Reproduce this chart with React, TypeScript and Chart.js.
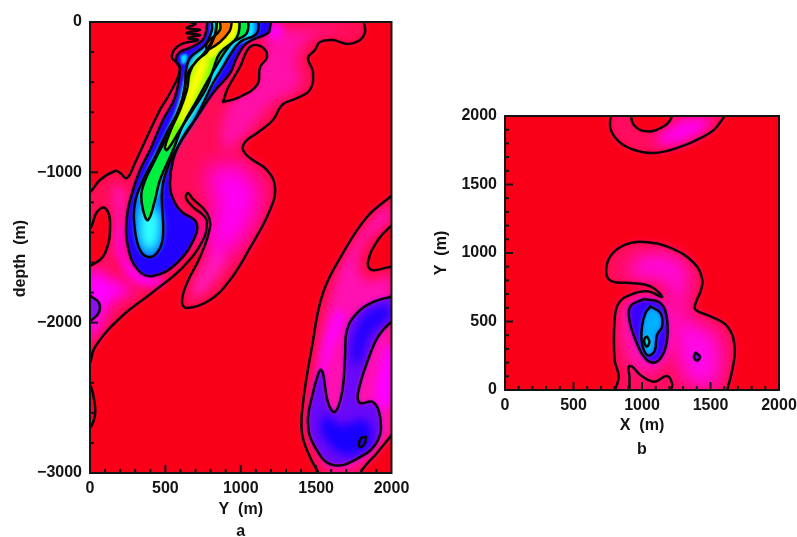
import React, { useEffect, useRef } from "react";
import { Chart, registerables } from "chart.js";

type P = [number, number];

// ---- Panel a (Y in m, depth in m) ----
const pinkMain: P[] = [[-33,-1131],[0,-1131],[66,-1051],[166,-991],[199,-1004],[245,-1038],[298,-938],[378,-765],[464,-585],[531,-472],[597,-319],[570,-266],[544,-239],[557,-186],[610,-146],[716,-120],[650,-106],[730,-86],[637,-73],[730,-53],[643,-40],[700,-13],[663,0],[663,47],[1817,47],[1817,0],[1824,-67],[1791,-120],[1711,-146],[1612,-120],[1526,-133],[1492,-186],[1446,-239],[1479,-333],[1459,-452],[1373,-506],[1274,-552],[1214,-652],[1108,-738],[1028,-798],[1015,-851],[1061,-905],[1174,-985],[1227,-1098],[1194,-1251],[1061,-1503],[929,-1716],[796,-1849],[643,-1903],[610,-1863],[643,-1736],[730,-1563],[796,-1364],[776,-1271],[677,-1171],[650,-1137],[637,-1171],[683,-1231],[750,-1284],[776,-1330],[750,-1450],[617,-1630],[418,-1796],[199,-1969],[33,-2162],[0,-2268],[-33,-2315]];
const lobeOuter: P[] = [[2023,-1137],[1990,-1164],[1837,-1297],[1678,-1537],[1545,-1803],[1472,-2162],[1413,-2534],[1406,-2734],[1459,-2894],[1512,-2993],[1526,-3033],[1791,-3033],[1804,-2980],[1904,-2867],[1990,-2761],[2023,-2727]];
const lobeIsland: P[] = [[2023,-1350],[1990,-1364],[1910,-1450],[1844,-1596],[1870,-1650],[1990,-1630],[2023,-1636]];
const lobeBlue: P[] = [[2023,-1823],[1990,-1829],[1877,-1863],[1771,-1936],[1705,-2049],[1691,-2248],[1671,-2468],[1625,-2594],[1579,-2534],[1545,-2335],[1526,-2315],[1479,-2468],[1446,-2667],[1492,-2827],[1612,-2947],[1791,-2894],[1910,-2781],[1924,-2627],[1877,-2528],[1791,-2534],[1778,-2468],[1844,-2248],[1910,-2095],[1990,-2002],[2023,-1996]];
const lobeCoreUpper: P[] = [[1957,-1883],[1824,-1949],[1758,-2082],[1738,-2248],[1778,-2282],[1857,-2082],[2003,-1929]];
const lobeCoreLower: P[] = [[1526,-2714],[1592,-2814],[1691,-2880],[1824,-2847],[1870,-2747],[1824,-2647],[1658,-2681],[1559,-2614]];
const lobeEllipse: P[] = [[1831,-2761],[1824,-2801],[1798,-2827],[1784,-2814],[1798,-2767]];
const plumeBlue: P[] = [[783,47],[756,-106],[677,-166],[597,-200],[570,-253],[597,-306],[564,-499],[484,-652],[398,-851],[332,-984],[285,-1118],[245,-1297],[252,-1497],[318,-1650],[418,-1690],[577,-1603],[696,-1430],[703,-1330],[610,-1264],[564,-1204],[531,-1098],[551,-918],[617,-765],[710,-632],[816,-472],[929,-339],[975,-233],[1041,-140],[1181,-73],[1194,-33],[1194,47]];
const plumeAzure: P[] = [[1114,47],[1108,-73],[995,-133],[929,-220],[882,-299],[816,-406],[730,-585],[683,-672],[597,-805],[517,-965],[478,-1118],[484,-1430],[444,-1537],[385,-1563],[332,-1517],[298,-1384],[298,-1204],[352,-1051],[431,-898],[511,-732],[597,-565],[630,-419],[637,-319],[663,-239],[763,-153],[809,-53],[816,47]];
const plumeCyanBand: P[] = [[1081,47],[1075,-100],[968,-153],[902,-239],[856,-333],[763,-499],[663,-672],[570,-838],[484,-1018],[431,-1184],[332,-1184],[385,-984],[497,-752],[584,-552],[625,-386],[680,-245],[790,-140],[830,47]];
const pouchCyan: P[] = [[464,-1284],[451,-1450],[398,-1517],[345,-1470],[332,-1330],[365,-1217]];
const plumeGreen: P[] = [[1048,47],[1041,-73],[949,-133],[895,-200],[849,-273],[783,-386],[710,-519],[617,-685],[551,-851],[464,-1051],[431,-1184],[385,-1317],[352,-1251],[345,-1118],[431,-918],[517,-752],[597,-585],[643,-452],[663,-333],[710,-253],[776,-200],[829,-86],[862,47]];
const plumeLime: P[] = [[995,47],[975,-100],[862,-206],[816,-319],[776,-432],[683,-585],[597,-718],[511,-851],[497,-832],[544,-698],[617,-499],[650,-339],[696,-273],[763,-200],[829,-86],[862,47]];
const plumeYellow: P[] = [[809,-186],[776,-319],[710,-486],[630,-652],[584,-685],[610,-552],[663,-386],[716,-253]];
const topYellow: P[] = [[981,47],[968,-86],[862,-186],[809,-239],[776,-186],[895,-53],[915,47]];
const plumeOrange: P[] = [[942,47],[922,-67],[783,-186],[776,-140],[862,-53],[862,47]];
const plumeCyanSpot: P[] = [[600,-225],[640,-215],[640,-260],[612,-280]];
const redIslandUpper: P[] = [[882,-532],[975,-506],[1108,-419],[1128,-299],[1174,-233],[1141,-166],[1061,-166],[995,-299],[915,-439]];
const redIslandLeft: P[] = [[-33,-1616],[13,-1616],[100,-1537],[133,-1337],[100,-1237],[46,-1264],[7,-1364],[-33,-1404]];
const leftLens: P[] = [[-33,-1803],[13,-1829],[60,-1869],[60,-1929],[27,-1969],[-33,-2002]];
const lowerLens: P[] = [[-33,-2415],[0,-2415],[27,-2515],[33,-2614],[0,-2700],[-33,-2700]];
const glowCentre: P[] = [[763,-985],[962,-951],[1114,-1118],[1061,-1350],[895,-1550],[763,-1483],[829,-1251]];
const glowLeft: P[] = [[33,-1650],[232,-1749],[298,-1770],[133,-1883],[33,-2082],[-33,-2082],[-33,-1650]];
const glowTop: P[] = [[1181,0],[1274,-20],[1260,-106],[1194,-120]];
const glowPouch: P[] = [[186,-1350],[199,-1597],[332,-1750],[498,-1730],[265,-1597],[212,-1350]];
const glowLobe: P[] = [[1625,-1916],[1546,-2182],[1512,-2481],[1592,-2215],[1691,-1949]];
const glowLobeRight: P[] = [[1957,-2149],[2013,-2149],[2013,-2514],[1943,-2581],[1890,-2481]];
const hotUpperRight: P[] = [[1227,-53],[1691,-53],[1459,-106],[1373,-253],[1393,-419],[1194,-552],[1061,-718],[895,-851],[895,-619],[1181,-120]];
const hotTongue: P[] = [[862,-1450],[895,-1616],[696,-1836],[696,-1716]];
const hotLeft: P[] = [[146,-1084],[232,-1118],[186,-1483],[33,-1716],[146,-1517]];
const hotLobe: P[] = [[1957,-1217],[1725,-1517],[1592,-1849],[1526,-2149],[1473,-2647],[1526,-2847],[1592,-2980],[1791,-2947],[1957,-2781],[2003,-2714],[2003,-1716],[1824,-1716],[1791,-1517],[2003,-1284]];

// ---- Panel b (X in m, Y in m) ----
const bTopPink: P[] = [[781,2050],[769,1913],[830,1815],[939,1754],[1086,1730],[1257,1767],[1452,1852],[1549,1925],[1598,2050]];
const bTopRed: P[] = [[915,2050],[939,1937],[1037,1888],[1159,1925],[1213,1986],[1213,2050]];
const bTopGlow: P[] = [[1300,1980],[1500,1980],[1400,1860],[1180,1790],[1100,1830]];
const bPink: P[] = [[805,-49],[805,0],[830,98],[800,220],[800,512],[830,634],[915,695],[1037,720],[1147,678],[1061,756],[915,781],[781,793],[739,854],[769,976],[878,1061],[1013,1081],[1208,1037],[1379,927],[1440,805],[1427,720],[1391,634],[1391,586],[1501,537],[1623,464],[1676,317],[1659,146],[1623,0],[1623,-49]];
const bGlow: P[] = [[964,976],[1208,976],[1330,854],[1305,683],[1330,512],[1525,415],[1574,195],[1501,12],[1330,73],[1257,268],[1220,659],[1159,805],[915,830]];
const bHotWall: P[] = [[850,600],[1000,700],[1200,600],[1230,350],[1100,130],[950,150],[860,350]];
const bNotch: P[] = [[908,-49],[908,98],[903,171],[927,171],[988,110],[1086,61],[1183,102],[1220,49],[1213,0],[1213,-49]];
const bBlue: P[] = [[1013,664],[1135,634],[1183,512],[1179,342],[1135,232],[1074,200],[1013,244],[952,366],[908,512],[915,610]];
const bCyan: P[] = [[1061,610],[1135,561],[1147,464],[1110,403],[1091,281],[1037,256],[1000,342],[1000,464],[1025,561]];
const bSpot: P[] = [[1037,390],[1054,354],[1037,317],[1017,346],[1020,378]];
const bSmall: P[] = [[1391,273],[1423,244],[1403,215],[1379,239]];

// ---- Axes ----
const aXMinor = [100,200,300,400,600,700,800,900,1100,1200,1300,1400,1600,1700,1800,1900];
const aXMajor = [500,1000,1500];
const aYMinor = [-200,-400,-600,-800,-1200,-1400,-1600,-1800,-2200,-2400,-2600,-2800];
const aYMajor = [-1000,-2000];
const bMinor = aXMinor;
const bMajor = aXMajor;

type Layer = { pts: P[]; color: string; blur: number };

const layersA: Layer[] = [
  { pts: pinkMain, color: "#ff0c58", blur: 3 },
  { pts: lobeOuter, color: "#ff0c58", blur: 3 },
  { pts: hotUpperRight, color: "#ff10a8", blur: 6 },
  { pts: hotTongue, color: "#ff18b0", blur: 5 },
  { pts: hotLeft, color: "#ff10a8", blur: 5 },
  { pts: hotLobe, color: "#ff10b0", blur: 5 },
  { pts: glowCentre, color: "#ff00f8", blur: 11 },
  { pts: glowLeft, color: "#ff00ff", blur: 7 },
  { pts: glowTop, color: "#ff00ff", blur: 4 },
  { pts: glowPouch, color: "#ff00f0", blur: 4 },
  { pts: glowLobe, color: "#ff00ff", blur: 4 },
  { pts: glowLobeRight, color: "#ff00ff", blur: 4 },
  { pts: redIslandUpper, color: "#fa0018", blur: 2 },
  { pts: redIslandLeft, color: "#fa0018", blur: 2 },
  { pts: lobeIsland, color: "#fa0018", blur: 2 },
  { pts: lowerLens, color: "#ff0028", blur: 1 },
  { pts: leftLens, color: "#8a10f0", blur: 1.5 },
  { pts: lobeBlue, color: "#6a08f8", blur: 2 },
  { pts: lobeCoreUpper, color: "#2000ff", blur: 5 },
  { pts: lobeCoreLower, color: "#1800ff", blur: 5 },
  { pts: plumeBlue, color: "#2200ff", blur: 1.5 },
  { pts: plumeCyanSpot, color: "#00e0ff", blur: 1 },
  { pts: plumeAzure, color: "#0088ff", blur: 2 },
  { pts: plumeCyanBand, color: "#00e8ff", blur: 1.5 },
  { pts: pouchCyan, color: "#30ffff", blur: 5 },
  { pts: plumeGreen, color: "#00f040", blur: 1 },
  { pts: plumeLime, color: "#70ff00", blur: 1 },
  { pts: plumeYellow, color: "#ffff00", blur: 3 },
  { pts: topYellow, color: "#f0ff00", blur: 1 },
  { pts: plumeOrange, color: "#ff7000", blur: 1 },
];
const contoursA: P[][] = [pinkMain, lobeOuter, lobeIsland, lobeBlue, lobeEllipse, plumeBlue, plumeAzure, plumeGreen, plumeLime, plumeOrange, redIslandUpper, redIslandLeft, leftLens, lowerLens];

const layersB: Layer[] = [
  { pts: bTopPink, color: "#ff0c60", blur: 3 },
  { pts: bTopGlow, color: "#ff00f0", blur: 6 },
  { pts: bTopRed, color: "#fa0018", blur: 2 },
  { pts: bPink, color: "#ff0c60", blur: 3 },
  { pts: bHotWall, color: "#ff10b0", blur: 6 },
  { pts: bGlow, color: "#ff08e8", blur: 9 },
  { pts: bBlue, color: "#3a00ff", blur: 2 },
  { pts: bCyan, color: "#00b0ff", blur: 2 },
  { pts: bSpot, color: "#00ffd0", blur: 2 },
  { pts: bSmall, color: "#8000ff", blur: 1 },
];
const contoursB: P[][] = [bTopPink, bTopRed, bPink, bNotch, bBlue, bCyan, bSpot, bSmall];

const FONT = "'Liberation Sans', Arial, sans-serif";
const INK = "#141414";

const blurOn = {
  id: "blurOn",
  beforeDatasetDraw(chart: any, args: any) {
    const b = chart.data.datasets[args.index].fillBlur;
    if (b) chart.ctx.filter = `blur(${b}px)`;
  },
};
const blurOff = {
  id: "blurOff",
  beforeDatasetDraw(chart: any, args: any) {
    chart.ctx.filter = chart.data.datasets[args.index].fillBlur ? "none" : "blur(0.5px)";
  },
  afterDatasetDraw(chart: any) {
    chart.ctx.filter = "none";
  },
};
Chart.register(blurOn);
Chart.register(...registerables);
Chart.register(blurOff);

function closed(pts: P[]) {
  return [...pts, pts[0]].map(([x, y]) => ({ x, y }));
}

function buildDatasets(layers: Layer[], contours: P[][]) {
  const fills = layers.map((l) => ({
    data: closed(l.pts),
    fill: "shape",
    backgroundColor: l.color,
    borderWidth: 0,
    borderColor: "transparent",
    pointRadius: 0,
    tension: 0.42,
    fillBlur: l.blur,
  }));
  const lines = contours.map((pts) => ({
    data: closed(pts),
    fill: false,
    borderColor: "#0a0508",
    borderWidth: 2.5,
    borderJoinStyle: "round",
    borderCapStyle: "round",
    pointRadius: 0,
    tension: 0.42,
  }));
  const all: any[] = [...fills, ...lines];
  all.forEach((d, i) => (d.order = all.length - i));
  return all;
}

const framePlugin = (xMinor: number[], xMajor: number[], yMinor: number[], yMajor: number[]) => ({
  id: "frame",
  beforeDatasetsDraw(chart: any) {
    const { ctx, chartArea: a } = chart;
    ctx.save();
    ctx.fillStyle = "#fa0018";
    ctx.fillRect(a.left, a.top, a.right - a.left, a.bottom - a.top);
    ctx.restore();
  },
  afterDatasetsDraw(chart: any) {
    const { ctx, chartArea: a, scales } = chart;
    ctx.save();
    ctx.strokeStyle = INK;
    ctx.lineWidth = 2;
    ctx.filter = "blur(0.4px)";
    ctx.strokeRect(a.left, a.top, a.right - a.left, a.bottom - a.top);
    const xt = (v: number, len: number) => {
      const p = scales.x.getPixelForValue(v);
      ctx.beginPath();
      ctx.moveTo(p, a.bottom);
      ctx.lineTo(p, a.bottom - len);
      ctx.stroke();
    };
    const yt = (v: number, len: number) => {
      const p = scales.y.getPixelForValue(v);
      ctx.beginPath();
      ctx.moveTo(a.left, p);
      ctx.lineTo(a.left + len, p);
      ctx.stroke();
    };
    xMinor.forEach((v) => xt(v, 4));
    xMajor.forEach((v) => xt(v, 8));
    yMinor.forEach((v) => yt(v, 4));
    yMajor.forEach((v) => yt(v, 8));
    ctx.restore();
  },
});

const fmt = (v: any) => (Number(v) < 0 ? "\u2212" + Math.abs(Number(v)) : String(v));

function makeChart(canvas: HTMLCanvasElement, layers: Layer[], contours: P[][], cfg: any) {
  const tickFont = { family: FONT, size: 16, weight: "bold" as const };
  return new Chart(canvas, {
    type: "line",
    data: { datasets: buildDatasets(layers, contours) as any },
    plugins: [framePlugin(cfg.xMinor, cfg.xMajor, cfg.yMinor, cfg.yMajor)],
    options: {
      animation: false,
      responsive: false,
      events: [],
      layout: { autoPadding: false, padding: cfg.padding },
      plugins: { legend: { display: false }, tooltip: { enabled: false }, title: { display: false } },
      scales: {
        x: {
          type: "linear",
          min: cfg.xMin,
          max: cfg.xMax,
          afterFit: (s: any) => { s.height = cfg.bottomH; },
          border: { display: false },
          grid: { display: false, drawTicks: false },
          ticks: { stepSize: 500, color: INK, font: tickFont, padding: 6, maxRotation: 0, autoSkip: false, callback: fmt },
          title: {
            display: true,
            text: cfg.xTitle,
            color: INK,
            font: { family: FONT, size: 16, weight: "bold", lineHeight: cfg.titleLH },
            padding: cfg.xTitlePad,
          },
        },
        y: {
          type: "linear",
          min: cfg.yMin,
          max: cfg.yMax,
          afterFit: (s: any) => { s.width = cfg.leftW; },
          border: { display: false },
          grid: { display: false, drawTicks: false },
          ticks: { stepSize: cfg.yStep, color: INK, font: tickFont, padding: 8, autoSkip: false, callback: fmt },
          title: {
            display: true,
            text: cfg.yTitle,
            color: INK,
            font: { family: FONT, size: 16, weight: "bold" },
            padding: cfg.yTitlePad,
          },
        },
      },
    } as any,
  });
}

export default function App() {
  const aRef = useRef<HTMLCanvasElement>(null);
  const bRef = useRef<HTMLCanvasElement>(null);
  useEffect(() => {
    const a = makeChart(aRef.current!, layersA, contoursA, {
      padding: { left: 0, top: 22, right: 38.5, bottom: 0 },
      bottomH: 64, leftW: 90,
      xMin: 0, xMax: 2000, yMin: -3000, yMax: 0, yStep: 1000,
      xTitle: ["Y  (m)", "a"], yTitle: "depth  (m)     ", titleLH: 1.375,
      xTitlePad: { top: 0, bottom: -6 }, yTitlePad: { top: 11, bottom: 0 },
      xMinor: aXMinor, xMajor: aXMajor, yMinor: aYMinor, yMajor: aYMajor,
    });
    const b = makeChart(bRef.current!, layersB, contoursB, {
      padding: { left: 0, top: 116, right: 51, bottom: 0 },
      bottomH: 147, leftW: 75,
      xMin: 0, xMax: 2000, yMin: 0, yMax: 2000, yStep: 500,
      xTitle: ["X  (m)", "b"], yTitle: "Y  (m)", titleLH: 1.5,
      xTitlePad: { top: 0, bottom: 75 }, yTitlePad: { top: 2, bottom: 0 },
      xMinor: bMinor, xMajor: bMajor, yMinor: bMinor, yMajor: bMajor,
    });
    return () => { a.destroy(); b.destroy(); };
  }, []);
  return (
    <div style={{ position: "absolute", left: 0, top: 0, width: 797, height: 537, background: "#fff", overflow: "hidden" }}>
      <canvas ref={aRef} width={430} height={537} style={{ position: "absolute", left: 0, top: 0 }} />
      <canvas ref={bRef} width={400} height={537} style={{ position: "absolute", left: 430, top: 0 }} />
    </div>
  );
}
